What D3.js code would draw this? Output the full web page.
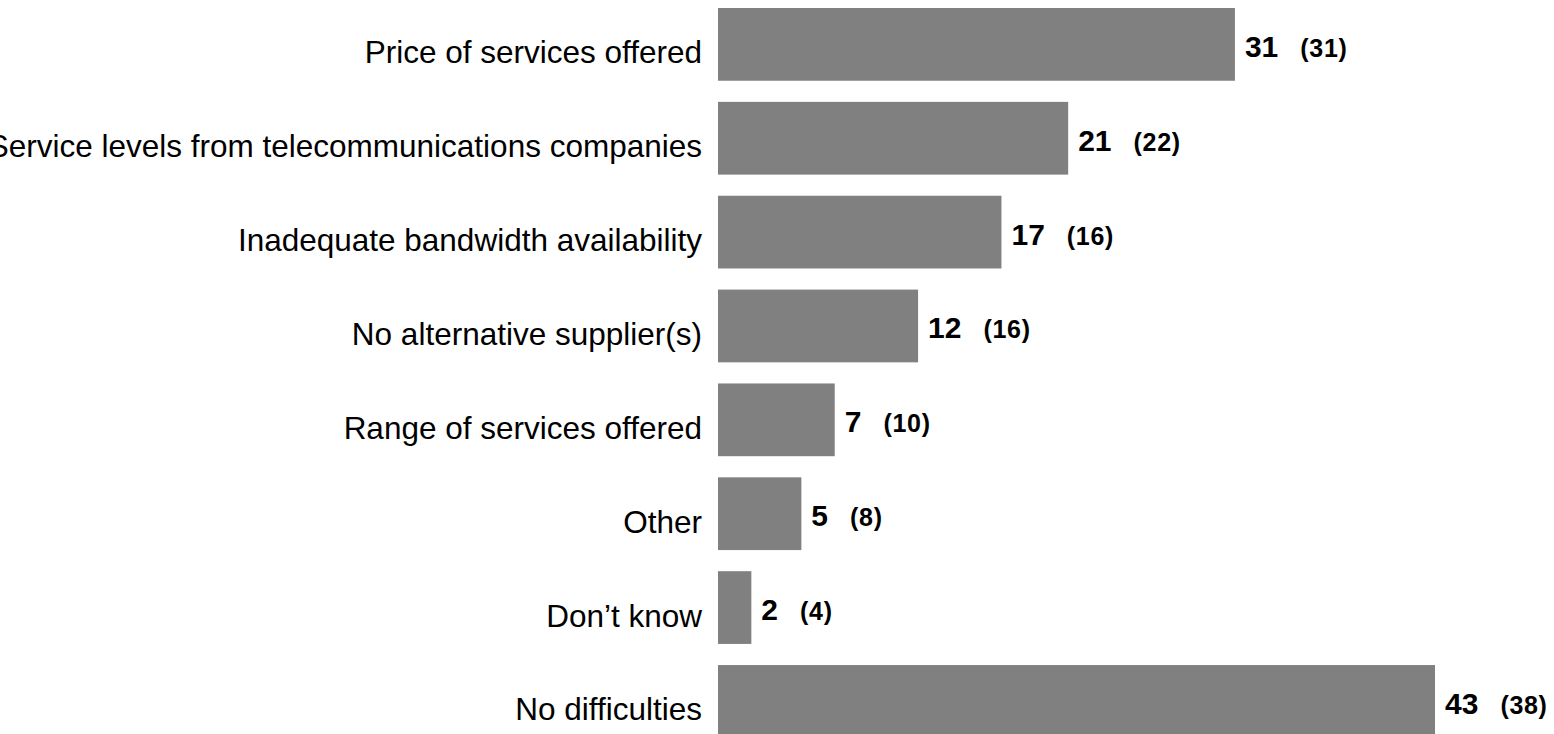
<!DOCTYPE html>
<html>
<head>
<meta charset="utf-8">
<script src="https://cdn.jsdelivr.net/npm/d3@7"></script>
<style>
  html, body { margin: 0; padding: 0; background: #fff; overflow: hidden; }
  svg { display: block; font-family: "Liberation Sans", Arial, Helvetica, sans-serif; }
</style>
</head>
<body>
<svg id="chart" width="1554" height="734"></svg>
<script>
// Difficulties reported with telecommunications services (%)
const categories = [
  "Price of services offered",
  "Service levels from telecommunications companies",
  "Inadequate bandwidth availability",
  "No alternative supplier(s)",
  "Range of services offered",
  "Other",
  "Don\u2019t know",
  "No difficulties"
];
// current results
const values = [31, 21, 17, 12, 7, 5, 2, 43];
// previous results, shown in brackets
const previous = [31, 22, 16, 16, 10, 8, 4, 38];

const svg = d3.select("#chart");

const x = d3.scaleLinear().domain([0, 43]).range([718, 1435]);
const y = d3.scaleBand()
  .domain(categories)
  .range([8, 737.8])
  .paddingInner(0.225)
  .paddingOuter(0);

const rows = categories.map((c, i) => ({ c, v: values[i], p: previous[i] }));

// bars
svg.append("g").selectAll("rect")
  .data(rows)
  .join("rect")
  .attr("x", x(0))
  .attr("y", d => y(d.c))
  .attr("width", d => x(d.v) - x(0))
  .attr("height", y.bandwidth())
  .attr("fill", "#808080");

// category labels
svg.append("g").selectAll("text")
  .data(rows)
  .join("text")
  .attr("x", x(0) - 16)
  .attr("y", d => y(d.c) + y.bandwidth() / 2 + 19)
  .attr("text-anchor", "end")
  .attr("font-size", 31.5)
  .attr("fill", "#000")
  .text(d => d.c);

// value labels with previous value in brackets
const lab = svg.append("g").selectAll("text")
  .data(rows)
  .join("text")
  .attr("x", d => x(d.v) + 10)
  .attr("y", d => y(d.c) + y.bandwidth() / 2 + 12.5)
  .attr("font-weight", "bold")
  .attr("fill", "#000");

lab.append("tspan")
  .attr("font-size", 30)
  .text(d => d.v);

lab.append("tspan")
  .attr("dx", 22)
  .attr("font-size", 25)
  .attr("letter-spacing", 0.7)
  .text(d => `(${d.p})`);
</script>
</body>
</html>
